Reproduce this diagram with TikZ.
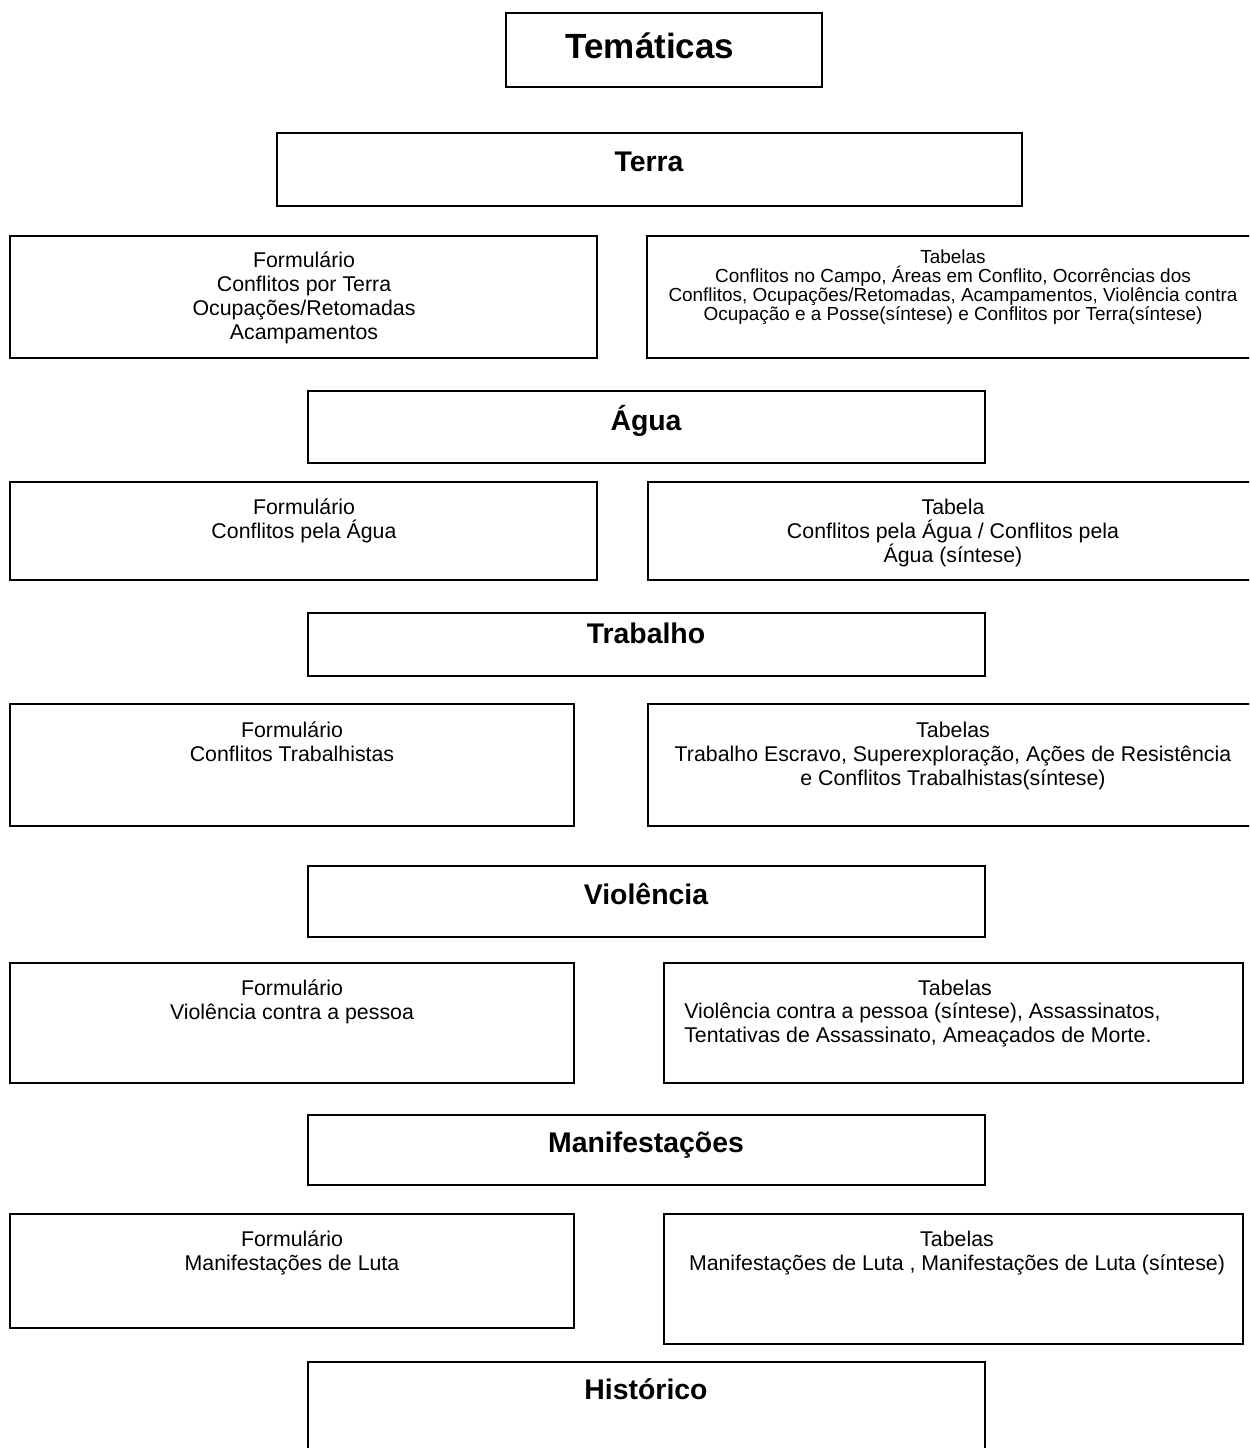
\documentclass[tikz,border=0pt]{standalone}
\usepackage{fontspec}
\setmainfont{Liberation Sans}
\usetikzlibrary{positioning,fit}

\newcommand{\linhasjuntas}{\setlength{\lineskiplimit}{-20pt}\setlength{\lineskip}{0pt}}

\tikzset{
  caixa/.style={draw, rectangle, line width=1.4pt, inner sep=0pt},
  titulo/.style={font=\fontsize{21.3}{25}\selectfont\bfseries, anchor=base, inner sep=0pt},
  texto/.style={font=\fontsize{16}{18}\selectfont\linhasjuntas, align=center, anchor=north, inner sep=0pt},
  textop/.style={font=\fontsize{14.2}{14.25}\selectfont\linhasjuntas, align=center, anchor=north, inner sep=0pt},
}

\begin{document}
\begin{tikzpicture}[x=0.75pt, y=-0.75pt]
            \clip (0,0) rectangle (1249,1448);
            \fill[white] (0,0) rectangle (1249,1448);

            \node[caixa, fit={(506,13) (822,87)}] (tematicas) {};
            \node[titulo, font=\fontsize{26.25}{30}\selectfont\bfseries] (tematicas-t) at (650,59) {Temáticas};

            % Terra
            \node[caixa, fit={(277,133) (1022,206)}] (terra) {};
            \node[titulo] (terra-t) at (649,172) {Terra};
            \node[caixa, fit={(10,236) (597,358)}] (fterra) {};
            \node[texto] (fterra-t) at (304,250) {\strut Formulário\\Conflitos por Terra\\Ocupações/Retomadas\\Acampamentos};
            \node[caixa, fit={(647,236) (1262,358)}] (tterra) {};
            \node[textop] (tterra-t) at (953,250) {\strut Tabelas\\Conflitos no Campo, Áreas em Conflito, Ocorrências dos\\Conflitos, Ocupações/Retomadas, Acampamentos, Violência contra\\Ocupação e a Posse(síntese) e Conflitos por Terra(síntese)};

            % Agua
            \node[caixa, fit={(308,391) (985,463)}] (agua) {};
            \node[titulo] (agua-t) at (646,430) {Água};
            \node[caixa, fit={(10,482) (597,580)}] (fagua) {};
            \node[texto] (fagua-t) at (304,497) {\strut Formulário\\Conflitos pela Água};
            \node[caixa, fit={(648,482) (1262,580)}] (tagua) {};
            \node[texto] (tagua-t) at (953,497) {\strut Tabela\\Conflitos pela Água / Conflitos pela\\Água (síntese)};

            % Trabalho
            \node[caixa, fit={(308,613) (985,676)}] (trabalho) {};
            \node[titulo] (trabalho-t) at (646,643) {Trabalho};
            \node[caixa, fit={(10,704) (574,826)}] (ftrabalho) {};
            \node[texto] (ftrabalho-t) at (292,720) {\strut Formulário\\Conflitos Trabalhistas};
            \node[caixa, fit={(648,704) (1262,826)}] (ttrabalho) {};
            \node[texto] (ttrabalho-t) at (953,720) {\strut Tabelas\\Trabalho Escravo, Superexploração, Ações de Resistência\\e Conflitos Trabalhistas(síntese)};

            % Violencia
            \node[caixa, fit={(308,866) (985,937)}] (violencia) {};
            \node[titulo] (violencia-t) at (646,904) {Violência};
            \node[caixa, fit={(10,963) (574,1083)}] (fviolencia) {};
            \node[texto] (fviolencia-t) at (292,978) {\strut Formulário\\Violência contra a pessoa};
            \node[caixa, fit={(664,963) (1243,1083)}] (tviolencia) {};
            \node[texto] (tviolencia-c) at (955,978) {\strut Tabelas};
            \node[texto, align=left, anchor=north west] (tviolencia-t) at (684,1001) {\strut Violência contra a pessoa (síntese), Assassinatos,\\Tentativas de Assassinato, Ameaçados de Morte.};

            % Manifestacoes
            \node[caixa, fit={(308,1115) (985,1185)}] (manifestacoes) {};
            \node[titulo] (manifestacoes-t) at (646,1152) {Manifestações};
            \node[caixa, fit={(10,1214) (574,1328)}] (fmanifestacoes) {};
            \node[texto] (fmanifestacoes-t) at (292,1229) {\strut Formulário\\Manifestações de Luta};
            \node[caixa, fit={(664,1214) (1243,1344)}] (tmanifestacoes) {};
            \node[texto] (tmanifestacoes-t) at (957,1229) {\strut Tabelas\\Manifestações de Luta , Manifestações de Luta (síntese)};

            % Historico
            \node[caixa, fit={(308,1362) (985,1470)}] (historico) {};
            \node[titulo] (historico-t) at (646,1399) {Histórico};
        \end{tikzpicture}
\end{document}
